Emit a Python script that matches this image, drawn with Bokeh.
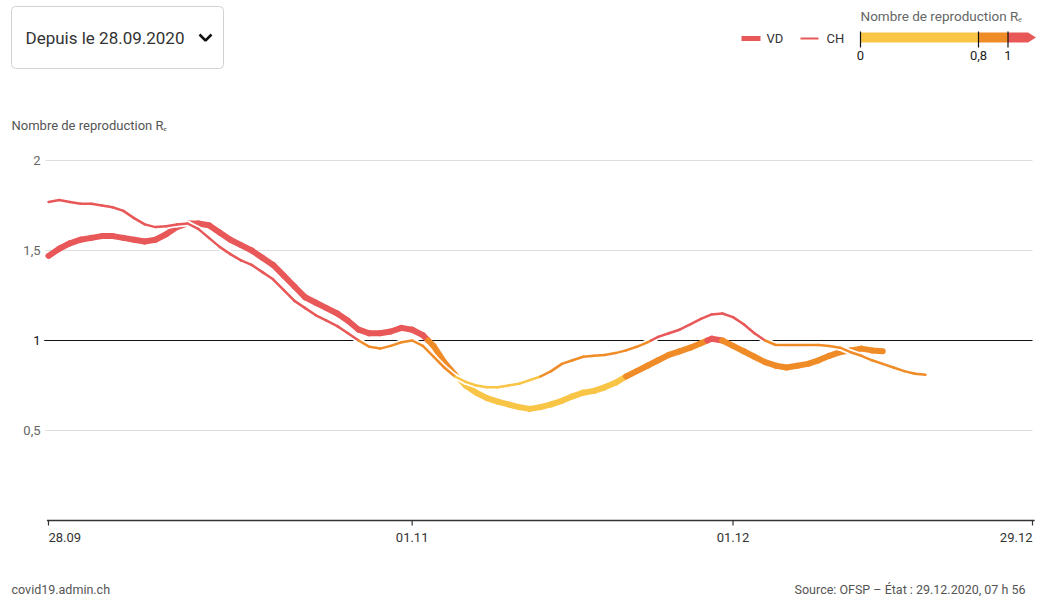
from bokeh.plotting import figure
from bokeh.models import Range1d
from bokeh.embed import file_html
from bokeh.resources import INLINE
from bokeh.core.properties import value

FONT = "Roboto"

# ---------------- data ----------------
# day index 0 = 28.09.2020
vd = [1.47, 1.51, 1.54, 1.56, 1.57, 1.58, 1.58, 1.57, 1.56, 1.55,
      1.56, 1.59, 1.63, 1.65, 1.65, 1.64, 1.60, 1.56, 1.53, 1.50,
      1.46, 1.42, 1.36, 1.30, 1.24, 1.21, 1.18, 1.15, 1.11, 1.06,
      1.04, 1.04, 1.05, 1.07, 1.06, 1.03, 0.97, 0.88, 0.81, 0.75,
      0.71, 0.68, 0.66, 0.645, 0.63, 0.62, 0.63, 0.645, 0.665, 0.69,
      0.71, 0.72, 0.74, 0.765, 0.80, 0.83, 0.86, 0.89, 0.92, 0.94,
      0.96, 0.985, 1.01, 1.00, 0.97, 0.94, 0.91, 0.88, 0.86, 0.85,
      0.86, 0.87, 0.89, 0.915, 0.935, 0.945, 0.955, 0.945, 0.94]
ch = [1.77, 1.78, 1.77, 1.76, 1.76, 1.75, 1.74, 1.72, 1.68, 1.645,
      1.63, 1.635, 1.645, 1.65, 1.62, 1.57, 1.52, 1.48, 1.445, 1.42,
      1.38, 1.34, 1.28, 1.22, 1.18, 1.14, 1.11, 1.08, 1.04, 1.00,
      0.965, 0.955, 0.97, 0.99, 1.00, 0.97, 0.91, 0.85, 0.80, 0.77,
      0.75, 0.74, 0.74, 0.75, 0.76, 0.78, 0.80, 0.83, 0.87, 0.89,
      0.91, 0.915, 0.92, 0.93, 0.945, 0.965, 0.99, 1.02, 1.04, 1.06,
      1.09, 1.12, 1.145, 1.15, 1.13, 1.09, 1.04, 1.00, 0.975, 0.975,
      0.975, 0.975, 0.975, 0.97, 0.96, 0.935, 0.915, 0.89, 0.87, 0.85,
      0.83, 0.815, 0.81]
x_tick_days = [0, 34, 64, 92]
x_tick_labels = ["28.09", "01.11", "01.12", "29.12"]
x_tick_align = ["left", "center", "center", "right"]
y_ticks = [0.5, 1, 1.5, 2]
y_tick_labels = ["0,5", "1", "1,5", "2"]
y_grid = [0.5, 1.5, 2]
thresholds = [0.8, 1.0]
legend_ticks = [0, 0.8, 1]
legend_tick_labels = ["0", "0,8", "1"]

YELLOW = "#f8c546"
ORANGE = "#f08c28"
RED = "#e85858"

# ---------------- layout (pixels) ----------------
W, H = 1036, 596
FRAME_L, FRAME_R = 48, 1032        # pixel x of first / last day tick
ZERO_Y, PX_PER_UNIT = 520, 180     # pixel y of R=0, pixels per unit of R
N_DAYS = 92
kx = (FRAME_R - FRAME_L) / N_DAYS
x_range = Range1d(-FRAME_L / kx, N_DAYS + (W - FRAME_R) / kx)
y_range = Range1d(-(H - ZERO_Y) / PX_PER_UNIT, ZERO_Y / PX_PER_UNIT)


def color_for(v):
    if v >= 1.0:
        return RED
    if v >= 0.8:
        return ORANGE
    return YELLOW


def split_segments(vals):
    x0, y0, x1, y1, c = [], [], [], [], []
    for i in range(len(vals) - 1):
        ya, yb = vals[i], vals[i + 1]
        pts = [(i, ya)]
        cuts = []
        for t in thresholds:
            if (ya - t) * (yb - t) < 0:
                f = (t - ya) / (yb - ya)
                cuts.append((i + f, t))
        cuts.sort()
        pts += cuts + [(i + 1, yb)]
        for a, b in zip(pts[:-1], pts[1:]):
            x0.append(a[0]); y0.append(a[1]); x1.append(b[0]); y1.append(b[1])
            c.append(color_for((a[1] + b[1]) / 2))
    return dict(x0=x0, y0=y0, x1=x1, y1=y1, c=c)


p = figure(width=W, height=H, x_range=x_range, y_range=y_range,
           output_backend="svg", toolbar_location=None, min_border=0,
           x_axis_location=None, y_axis_location=None)
p.grid.visible = False
p.outline_line_color = None
# pixel coordinates for header / footer decorations
p.extra_x_ranges = {"px": Range1d(0, W)}
p.extra_y_ranges = {"py": Range1d(H, 0)}
PX = dict(x_range_name="px", y_range_name="py")

# ---------------- header ----------------
p.quad(left=[11], right=[223], top=[6], bottom=[68], fill_color="white",
       line_color="#d2d2d2", line_width=1, border_radius=4, **PX)
p.text(x=[25], y=[37], text=["Depuis le 28.09.2020"], text_font=value(FONT),
       text_font_size="17px", text_baseline="middle", text_color="#333333", **PX)
p.line([199, 205, 211], [34, 40, 34], line_width=2.5, line_color="#111111", **PX)

p.line([741, 760], [38, 38], line_width=5, line_color=RED, **PX)
p.text(x=[766], y=[38], text=["VD"], text_font=value(FONT), text_font_size="13px",
       text_baseline="middle", text_color="#333333", **PX)
p.line([800, 818], [38, 38], line_width=2, line_color=RED, **PX)
p.text(x=[826], y=[38], text=["CH"], text_font=value(FONT), text_font_size="13px",
       text_baseline="middle", text_color="#333333", **PX)

bx0, bscale = 860, 147.5


def bx(v):
    return bx0 + v * bscale


p.text(x=[bx0], y=[15], text=["Nombre de reproduction Rₑ"], text_font=value(FONT),
       text_font_size="13.5px", text_baseline="middle", text_color="#666666", **PX)
p.quad(left=[bx(0)], right=[bx(0.8)], top=[32], bottom=[42], fill_color=YELLOW,
       line_color=None, **PX)
p.quad(left=[bx(0.8)], right=[bx(1.0)], top=[32], bottom=[42], fill_color=ORANGE,
       line_color=None, **PX)
p.patch([bx(1.0), bx(1.0) + 20, bx(1.0) + 28, bx(1.0) + 20, bx(1.0)], [32, 32, 37, 42, 42],
        fill_color=RED, line_color=None, **PX)
p.segment(x0=[bx(v) for v in legend_ticks], y0=[31] * 3, x1=[bx(v) for v in legend_ticks],
          y1=[47] * 3, line_color="#111111", line_width=1.2, **PX)
p.text(x=[bx(v) for v in legend_ticks], y=[55] * 3, text=legend_tick_labels,
       text_font=value(FONT), text_font_size="13px", text_align="center",
       text_baseline="middle", text_color="#222222", **PX)

p.text(x=[11], y=[125], text=["Nombre de reproduction Rₑ"], text_font=value(FONT),
       text_font_size="13px", text_baseline="middle", text_color="#555555", **PX)

# ---------------- axes and grid ----------------
p.segment(x0=[-0.3] * len(y_grid), y0=y_grid, x1=[N_DAYS] * len(y_grid), y1=y_grid,
          line_color="#dddddd", line_width=1)
p.segment(x0=[-0.4], y0=[1], x1=[N_DAYS], y1=[1], line_color="#111111", line_width=1)
p.segment(x0=[-0.15], y0=[0], x1=[N_DAYS + 0.2], y1=[0], line_color="#333333", line_width=1.5)
p.segment(x0=x_tick_days, y0=[0] * 4, x1=x_tick_days, y1=[-5 / PX_PER_UNIT] * 4,
          line_color="#333333", line_width=1.2)
for d, lab, al in zip(x_tick_days, x_tick_labels, x_tick_align):
    p.text(x=[d], y=[0], text=[lab], text_align=al, text_baseline="middle", y_offset=17,
           text_font=value(FONT), text_font_size="13px", text_color="#333333")
y_label_colors = ["#111111" if t == 1 else "#666666" for t in y_ticks]
p.text(x=[0] * len(y_ticks), y=y_ticks, text=y_tick_labels, text_align="right",
       text_baseline="middle", x_offset=-8, text_font=value(FONT), text_font_size="13px",
       text_color=y_label_colors)

# ---------------- series ----------------
sv = split_segments(vd)
sc = split_segments(ch)
p.segment("x0", "y0", "x1", "y1", source=sv, line_color="c", line_width=6, line_cap="round")
p.segment("x0", "y0", "x1", "y1", source=sc, line_color="white", line_width=6, line_cap="round")
p.segment("x0", "y0", "x1", "y1", source=sc, line_color="c", line_width=2.5, line_cap="round")

# ---------------- footer ----------------
p.text(x=[11], y=[589], text=["covid19.admin.ch"], text_font=value(FONT),
       text_font_size="12.5px", text_baseline="middle", text_color="#555555", **PX)
p.text(x=[1025], y=[589], text=["Source: OFSP – État : 29.12.2020, 07 h 56"],
       text_align="right", text_font=value(FONT), text_font_size="12.5px",
       text_baseline="middle", text_color="#555555", **PX)

open("out.html", "w").write(file_html(p, INLINE))
